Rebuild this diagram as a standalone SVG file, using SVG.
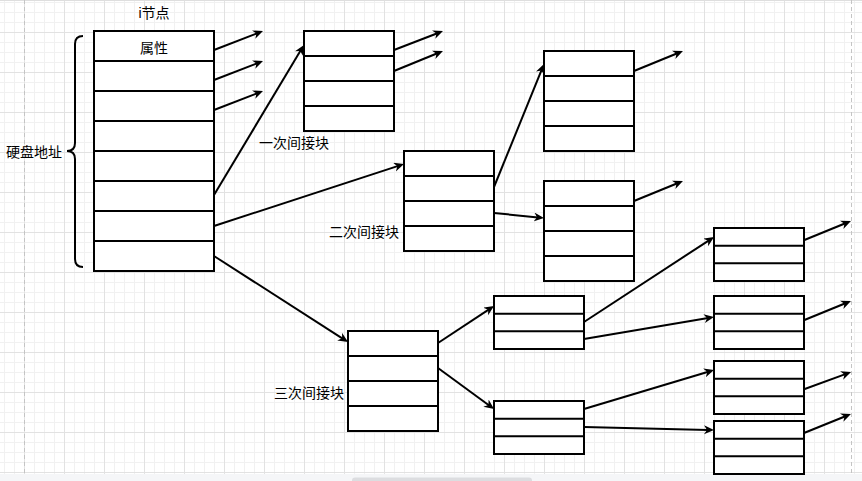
<svg xmlns="http://www.w3.org/2000/svg" width="862" height="481" viewBox="0 0 862 481">
<style>
.box{fill:#ffffff;stroke:#000000;stroke-width:2}
.row{stroke:#000000;stroke-width:2;fill:none}
.edge{stroke:#000000;stroke-width:2;fill:none;marker-end:url(#arrow)}
.lbl{font-family:"Liberation Sans","Noto Sans CJK SC",sans-serif;font-size:14px;fill:#000000}
</style>
<defs>
<pattern id="minor" patternUnits="userSpaceOnUse" x="4" y="2" width="10" height="10">
<path d="M0 0.5H10M0.5 0V10" stroke="#f1f1f1" stroke-width="1" fill="none"/>
</pattern>
<pattern id="major" patternUnits="userSpaceOnUse" x="24" y="32" width="40" height="40">
<path d="M0 0.5H40M0.5 0V40" stroke="#e2e2e2" stroke-width="1" fill="none"/>
</pattern>
<marker id="arrow" markerUnits="userSpaceOnUse" markerWidth="11" markerHeight="10" refX="4" refY="4.5" orient="auto">
<path d="M0,0 L10,4.5 L0,9 L3,4.5 Z" fill="#000000"/>
</marker>
</defs>
<g id="background">
<rect x="0" y="0" width="862" height="481" fill="#ffffff"/>
<rect x="0" y="0" width="862" height="481" fill="url(#minor)"/>
<rect x="0" y="0" width="862" height="481" fill="url(#major)"/>
<line x1="0" y1="0.5" x2="862" y2="0.5" stroke="#dedede"/>
<line x1="24.5" y1="0" x2="24.5" y2="474" stroke="#c4c4c4" stroke-dasharray="4,3"/>
<line x1="851.5" y1="0" x2="851.5" y2="474" stroke="#c4c4c4" stroke-dasharray="4,3"/>
<rect x="0" y="474" width="862" height="7" fill="#f5f6f8"/>
<rect x="352" y="477.5" width="180" height="6" rx="3" fill="#dcdde0"/>
</g>
<g id="connectors">
<path class="edge" d="M214,50 L257.4,33.2"/>
<path class="edge" d="M214,80 L257.4,63.2"/>
<path class="edge" d="M214,110 L257.4,93.2"/>
<path class="edge" d="M214,195 L300.9,50.1"/>
<path class="edge" d="M214,226 L398.3,165.9"/>
<path class="edge" d="M214,256 L343,338.8"/>
<path class="edge" d="M394,50 L437.4,33.2"/>
<path class="edge" d="M394,71 L437.4,53.3"/>
<path class="edge" d="M494,187 L541.7,69.6"/>
<path class="edge" d="M494,213 L538,217.4"/>
<path class="edge" d="M634,71 L677.4,53.3"/>
<path class="edge" d="M634,201 L677.4,183.3"/>
<path class="edge" d="M438,343 L489,309.3"/>
<path class="edge" d="M438,368 L489.2,405.5"/>
<path class="edge" d="M584,322 L709,240.3"/>
<path class="edge" d="M584,339 L708.1,318"/>
<path class="edge" d="M584,409 L708.3,371.7"/>
<path class="edge" d="M584,427 L708,429.9"/>
<path class="edge" d="M802,241 L845.4,223.3"/>
<path class="edge" d="M802,321 L845.4,303.3"/>
<path class="edge" d="M802,390 L845.4,374.1"/>
<path class="edge" d="M804,433 L845.4,416.2"/>
</g>
<g id="inode">
<text class="lbl" x="154" y="17.6" text-anchor="middle">i节点</text>
<rect class="box" x="94" y="31" width="120" height="240"/>
<path class="row" d="M94,61H214M94,91H214M94,121H214M94,151H214M94,181H214M94,211H214M94,241H214"/>
<text class="lbl" x="154" y="53" text-anchor="middle">属性</text>
</g>
<g id="disk-address">
<path d="M83,36 Q75,36 75,44 L75,143 Q75,151 67,151 Q75,151 75,159 L75,259 Q75,267 83,267" fill="none" stroke="#000000" stroke-width="2"/>
<text class="lbl" x="62" y="157" text-anchor="end">硬盘地址</text>
</g>
<g id="single-indirect">
<rect class="box" x="304" y="31" width="90" height="100"/>
<path class="row" d="M304,56H394M304,81H394M304,106H394"/>
<text class="lbl" x="259" y="148">一次间接块</text>
</g>
<g id="double-indirect">
<rect class="box" x="404" y="151" width="90" height="100"/>
<path class="row" d="M404,176H494M404,201H494M404,226H494"/>
<text class="lbl" x="329" y="237">二次间接块</text>
</g>
<g id="double-a">
<rect class="box" x="544" y="51" width="90" height="100"/>
<path class="row" d="M544,76H634M544,101H634M544,126H634"/>
</g>
<g id="double-b">
<rect class="box" x="544" y="181" width="90" height="100"/>
<path class="row" d="M544,206H634M544,231H634M544,256H634"/>
</g>
<g id="triple-indirect">
<rect class="box" x="348" y="331" width="90" height="100"/>
<path class="row" d="M348,356H438M348,381H438M348,406H438"/>
<text class="lbl" x="274" y="398">三次间接块</text>
</g>
<g id="triple-c">
<rect class="box" x="494" y="296" width="90" height="53"/>
<path class="row" d="M494,313.7H584M494,331.3H584"/>
</g>
<g id="triple-d">
<rect class="box" x="494" y="401" width="90" height="53"/>
<path class="row" d="M494,418.7H584M494,436.3H584"/>
</g>
<g id="triple-e">
<rect class="box" x="714" y="228" width="90" height="53"/>
<path class="row" d="M714,245.7H804M714,263.3H804"/>
</g>
<g id="triple-f">
<rect class="box" x="714" y="296" width="90" height="53"/>
<path class="row" d="M714,313.7H804M714,331.3H804"/>
</g>
<g id="triple-g">
<rect class="box" x="714" y="361" width="90" height="53"/>
<path class="row" d="M714,378.7H804M714,396.3H804"/>
</g>
<g id="triple-h">
<rect class="box" x="714" y="421" width="90" height="53"/>
<path class="row" d="M714,438.7H804M714,456.3H804"/>
</g>
</svg>
